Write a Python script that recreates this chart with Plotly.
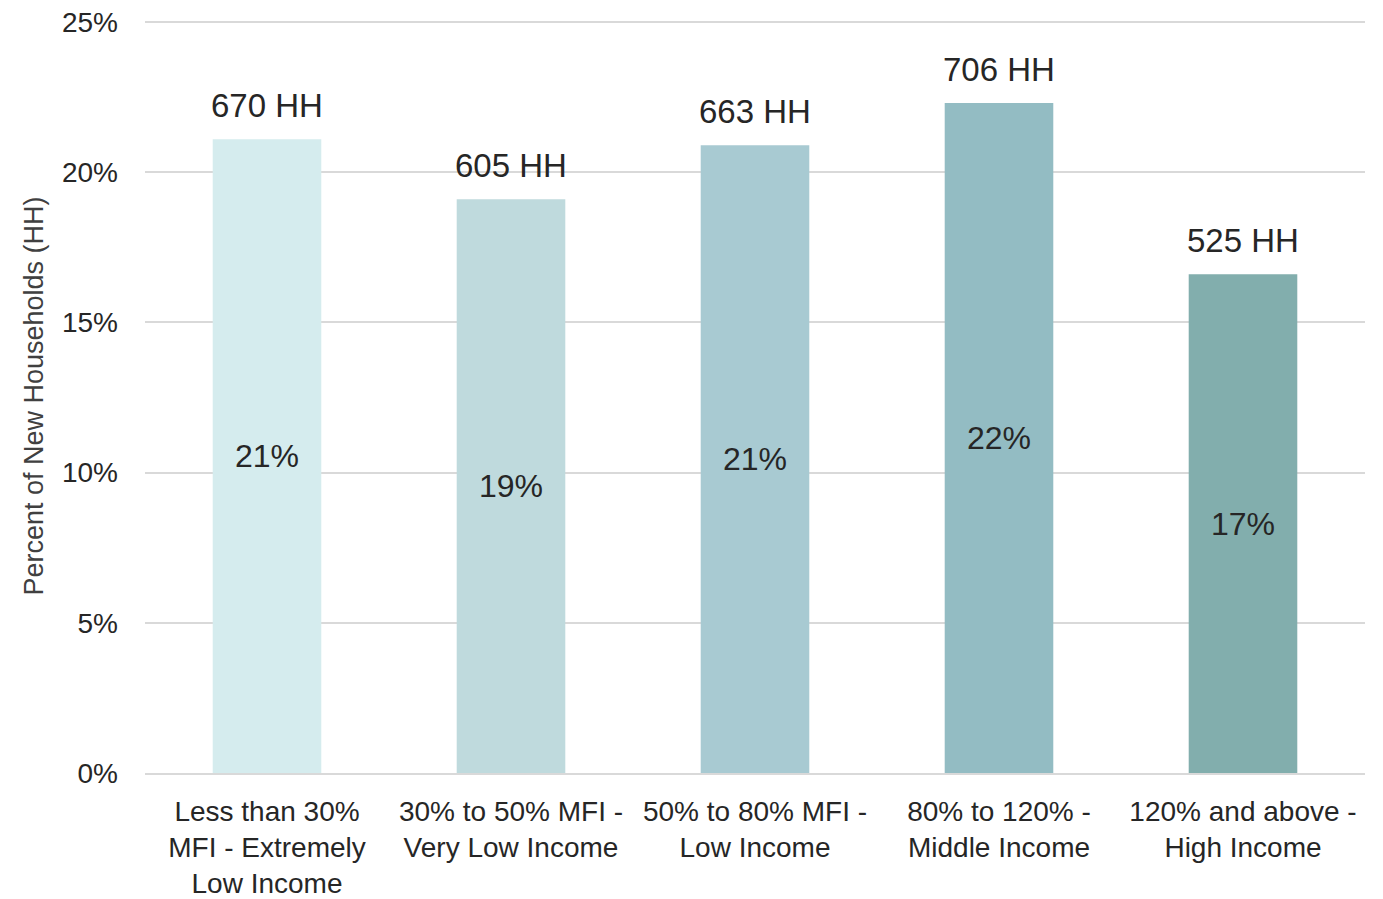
import plotly.graph_objects as go

# Income groups and newly formed households in each
categories = [
    "Less than 30%<br>MFI - Extremely<br>Low Income",
    "30% to 50% MFI -<br>Very Low Income",
    "50% to 80% MFI -<br>Low Income",
    "80% to 120% -<br>Middle Income",
    "120% and above -<br>High Income",
]
households = [670, 605, 663, 706, 525]
share_pct = [21.1, 19.1, 20.9, 22.3, 16.6]
bar_colors = ["#D5ECEE", "#BFDADD", "#A8CAD2", "#93BCC3", "#82AEAD"]

y_ticks = [0, 5, 10, 15, 20, 25]

text_color = "#262626"
label_font = "Liberation Sans, Arial, sans-serif"

fig = go.Figure()

fig.add_trace(go.Bar(
    x=categories,
    y=share_pct,
    marker=dict(color=bar_colors, line=dict(width=0)),
    width=0.445,
    text=[f"{round(v)}%" for v in share_pct],
    textposition="inside",
    insidetextanchor="middle",
    textangle=0,
    textfont=dict(family=label_font, size=32, color=text_color),
    hoverinfo="skip",
    showlegend=False,
))

# Household counts placed just above each bar
for cat, pct, hh in zip(categories, share_pct, households):
    fig.add_annotation(
        x=cat,
        y=pct,
        text=f"{hh} HH",
        showarrow=False,
        xanchor="center",
        yanchor="bottom",
        yshift=13,
        font=dict(family=label_font, size=33, color=text_color),
    )

fig.update_layout(
    width=1383,
    height=899,
    margin=dict(l=145, r=18, t=19, b=126),
    plot_bgcolor="white",
    paper_bgcolor="white",
    font=dict(family=label_font, color=text_color),
    bargap=0.555,
)

fig.update_xaxes(
    type="category",
    tickangle=0,
    tickfont=dict(family=label_font, size=28, color=text_color),
    showline=True,
    linecolor="#D9D9D9",
    linewidth=2,
    ticks="",
    showgrid=False,
    ticklabelstandoff=12,
    automargin=False,
)

fig.update_yaxes(
    range=[0, 25.1],
    tickvals=y_ticks,
    ticktext=[f"{v}%" for v in y_ticks],
    tickfont=dict(family=label_font, size=28, color=text_color),
    showgrid=True,
    gridcolor="#D9D9D9",
    gridwidth=2,
    zeroline=False,
    ticks="",
    ticklabelstandoff=26,
    automargin=False,
    title=dict(
        text="Percent of New Households (HH)",
        font=dict(family=label_font, size=27, color="#404040"),
        standoff=10,
    ),
)

fig.write_html("out.html")
